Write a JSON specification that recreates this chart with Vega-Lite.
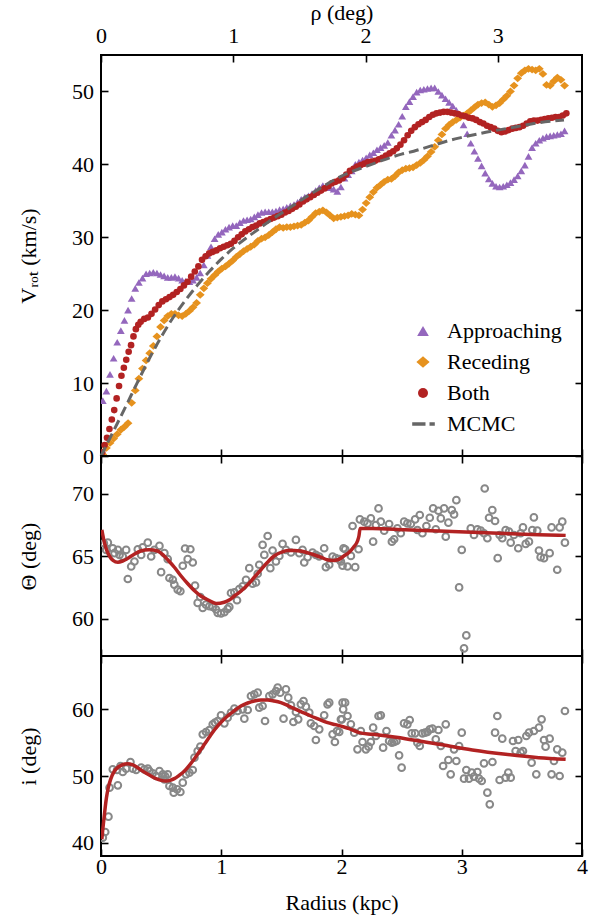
{
"$schema": "https://vega.github.io/schema/vega-lite/v6.json",
"padding": {"left": 16, "top": 0, "right": 5, "bottom": 5},
"spacing": 0,
"bounds": "flush",
"config": {
 "font": "Liberation Serif, Tinos, Times New Roman, Times, Noto Serif, FreeSerif, Nimbus Roman, DejaVu Serif, serif",
 "view": {"stroke": "black", "strokeWidth": 2},
 "axis": {"domain": false, "grid": false, "tickColor": "black", "tickWidth": 1.6, "tickSize": -7, "labelFont": "Liberation Serif, Tinos, Times New Roman, Times, Noto Serif, FreeSerif, Nimbus Roman, DejaVu Serif, serif", "labelFontSize": 22, "labelColor": "black", "titleFont": "Liberation Serif, Tinos, Times New Roman, Times, Noto Serif, FreeSerif, Nimbus Roman, DejaVu Serif, serif", "titleFontSize": 22, "titleFontWeight": "normal", "titleColor": "black", "labelFlush": false, "labelPadding": 14.5, "labelOverlap": false},
 "legend": {"labelFont": "Liberation Serif, Tinos, Times New Roman, Times, Noto Serif, FreeSerif, Nimbus Roman, DejaVu Serif, serif"}
},
"datasets": {
 "vrot": [
{"s":"Approaching","r":0.015,"v":7.6},{"s":"Approaching","r":0.045,"v":8.9},{"s":"Approaching","r":0.075,"v":11.2},{"s":"Approaching","r":0.105,"v":13.4},{"s":"Approaching","r":0.135,"v":15.6},{"s":"Approaching","r":0.165,"v":17.2},{"s":"Approaching","r":0.195,"v":18.6},{"s":"Approaching","r":0.225,"v":20.0},{"s":"Approaching","r":0.255,"v":21.6},{"s":"Approaching","r":0.285,"v":23.0},{"s":"Approaching","r":0.315,"v":23.8},{"s":"Approaching","r":0.345,"v":24.4},{"s":"Approaching","r":0.375,"v":25.0},{"s":"Approaching","r":0.405,"v":25.1},{"s":"Approaching","r":0.435,"v":25.2},{"s":"Approaching","r":0.465,"v":25.1},{"s":"Approaching","r":0.495,"v":24.9},{"s":"Approaching","r":0.525,"v":24.7},{"s":"Approaching","r":0.555,"v":24.5},{"s":"Approaching","r":0.585,"v":24.5},{"s":"Approaching","r":0.615,"v":24.6},{"s":"Approaching","r":0.645,"v":24.4},{"s":"Approaching","r":0.675,"v":24.1},{"s":"Approaching","r":0.705,"v":24.0},{"s":"Approaching","r":0.735,"v":23.9},{"s":"Approaching","r":0.765,"v":24.1},{"s":"Approaching","r":0.795,"v":24.5},{"s":"Approaching","r":0.825,"v":25.1},{"s":"Approaching","r":0.855,"v":26.2},{"s":"Approaching","r":0.885,"v":27.5},{"s":"Approaching","r":0.915,"v":28.7},{"s":"Approaching","r":0.945,"v":29.8},{"s":"Approaching","r":0.975,"v":30.4},{"s":"Approaching","r":1.005,"v":30.7},{"s":"Approaching","r":1.035,"v":31.1},{"s":"Approaching","r":1.065,"v":31.4},{"s":"Approaching","r":1.095,"v":31.6},{"s":"Approaching","r":1.125,"v":31.6},{"s":"Approaching","r":1.155,"v":32.0},{"s":"Approaching","r":1.185,"v":32.3},{"s":"Approaching","r":1.215,"v":32.4},{"s":"Approaching","r":1.245,"v":32.5},{"s":"Approaching","r":1.275,"v":32.8},{"s":"Approaching","r":1.305,"v":33.1},{"s":"Approaching","r":1.335,"v":33.4},{"s":"Approaching","r":1.365,"v":33.5},{"s":"Approaching","r":1.395,"v":33.5},{"s":"Approaching","r":1.425,"v":33.5},{"s":"Approaching","r":1.455,"v":33.6},{"s":"Approaching","r":1.485,"v":33.8},{"s":"Approaching","r":1.515,"v":33.9},{"s":"Approaching","r":1.545,"v":34.1},{"s":"Approaching","r":1.575,"v":34.3},{"s":"Approaching","r":1.605,"v":34.5},{"s":"Approaching","r":1.635,"v":34.8},{"s":"Approaching","r":1.665,"v":35.2},{"s":"Approaching","r":1.695,"v":35.5},{"s":"Approaching","r":1.725,"v":35.7},{"s":"Approaching","r":1.755,"v":36.0},{"s":"Approaching","r":1.785,"v":36.4},{"s":"Approaching","r":1.815,"v":36.8},{"s":"Approaching","r":1.845,"v":37.1},{"s":"Approaching","r":1.875,"v":37.0},{"s":"Approaching","r":1.905,"v":36.8},{"s":"Approaching","r":1.935,"v":36.6},{"s":"Approaching","r":1.965,"v":36.3},{"s":"Approaching","r":1.995,"v":36.9},{"s":"Approaching","r":2.025,"v":38.1},{"s":"Approaching","r":2.055,"v":38.6},{"s":"Approaching","r":2.085,"v":39.1},{"s":"Approaching","r":2.115,"v":40.0},{"s":"Approaching","r":2.145,"v":40.3},{"s":"Approaching","r":2.175,"v":40.6},{"s":"Approaching","r":2.205,"v":40.9},{"s":"Approaching","r":2.235,"v":41.3},{"s":"Approaching","r":2.265,"v":41.6},{"s":"Approaching","r":2.295,"v":42.0},{"s":"Approaching","r":2.325,"v":42.3},{"s":"Approaching","r":2.355,"v":42.6},{"s":"Approaching","r":2.385,"v":43.0},{"s":"Approaching","r":2.415,"v":44.0},{"s":"Approaching","r":2.445,"v":44.7},{"s":"Approaching","r":2.475,"v":45.5},{"s":"Approaching","r":2.505,"v":46.6},{"s":"Approaching","r":2.535,"v":47.9},{"s":"Approaching","r":2.565,"v":48.6},{"s":"Approaching","r":2.595,"v":49.3},{"s":"Approaching","r":2.625,"v":49.9},{"s":"Approaching","r":2.655,"v":50.2},{"s":"Approaching","r":2.685,"v":50.3},{"s":"Approaching","r":2.715,"v":50.4},{"s":"Approaching","r":2.745,"v":50.5},{"s":"Approaching","r":2.775,"v":50.5},{"s":"Approaching","r":2.805,"v":50.0},{"s":"Approaching","r":2.835,"v":49.5},{"s":"Approaching","r":2.865,"v":49.0},{"s":"Approaching","r":2.895,"v":48.5},{"s":"Approaching","r":2.925,"v":48.0},{"s":"Approaching","r":2.955,"v":47.4},{"s":"Approaching","r":2.985,"v":46.7},{"s":"Approaching","r":3.015,"v":45.4},{"s":"Approaching","r":3.045,"v":44.2},{"s":"Approaching","r":3.075,"v":42.9},{"s":"Approaching","r":3.105,"v":41.8},{"s":"Approaching","r":3.135,"v":40.8},{"s":"Approaching","r":3.165,"v":39.8},{"s":"Approaching","r":3.195,"v":38.8},{"s":"Approaching","r":3.225,"v":38.0},{"s":"Approaching","r":3.255,"v":37.4},{"s":"Approaching","r":3.285,"v":37.0},{"s":"Approaching","r":3.315,"v":36.9},{"s":"Approaching","r":3.345,"v":37.0},{"s":"Approaching","r":3.375,"v":37.2},{"s":"Approaching","r":3.405,"v":37.5},{"s":"Approaching","r":3.435,"v":37.9},{"s":"Approaching","r":3.465,"v":38.4},{"s":"Approaching","r":3.495,"v":39.1},{"s":"Approaching","r":3.525,"v":39.9},{"s":"Approaching","r":3.555,"v":41.1},{"s":"Approaching","r":3.585,"v":42.3},{"s":"Approaching","r":3.615,"v":42.9},{"s":"Approaching","r":3.645,"v":43.3},{"s":"Approaching","r":3.675,"v":43.6},{"s":"Approaching","r":3.705,"v":43.8},{"s":"Approaching","r":3.735,"v":43.9},{"s":"Approaching","r":3.765,"v":44.0},{"s":"Approaching","r":3.795,"v":44.1},{"s":"Approaching","r":3.825,"v":44.2},{"s":"Approaching","r":3.855,"v":44.6},
{"s":"Receding","r":0.015,"v":0.2},{"s":"Receding","r":0.045,"v":1.1},{"s":"Receding","r":0.075,"v":1.8},{"s":"Receding","r":0.105,"v":2.4},{"s":"Receding","r":0.135,"v":3.0},{"s":"Receding","r":0.165,"v":3.6},{"s":"Receding","r":0.195,"v":4.0},{"s":"Receding","r":0.225,"v":4.5},{"s":"Receding","r":0.255,"v":7.3},{"s":"Receding","r":0.285,"v":9.0},{"s":"Receding","r":0.315,"v":10.6},{"s":"Receding","r":0.345,"v":12.0},{"s":"Receding","r":0.375,"v":13.1},{"s":"Receding","r":0.405,"v":14.1},{"s":"Receding","r":0.435,"v":15.1},{"s":"Receding","r":0.465,"v":16.4},{"s":"Receding","r":0.495,"v":17.7},{"s":"Receding","r":0.525,"v":18.6},{"s":"Receding","r":0.555,"v":19.2},{"s":"Receding","r":0.585,"v":19.5},{"s":"Receding","r":0.615,"v":19.5},{"s":"Receding","r":0.645,"v":19.3},{"s":"Receding","r":0.675,"v":19.2},{"s":"Receding","r":0.705,"v":19.5},{"s":"Receding","r":0.735,"v":19.9},{"s":"Receding","r":0.765,"v":20.4},{"s":"Receding","r":0.795,"v":21.0},{"s":"Receding","r":0.825,"v":22.1},{"s":"Receding","r":0.855,"v":23.0},{"s":"Receding","r":0.885,"v":23.7},{"s":"Receding","r":0.915,"v":24.3},{"s":"Receding","r":0.945,"v":24.8},{"s":"Receding","r":0.975,"v":25.3},{"s":"Receding","r":1.005,"v":25.7},{"s":"Receding","r":1.035,"v":26.0},{"s":"Receding","r":1.065,"v":26.4},{"s":"Receding","r":1.095,"v":26.8},{"s":"Receding","r":1.125,"v":27.3},{"s":"Receding","r":1.155,"v":27.7},{"s":"Receding","r":1.185,"v":28.1},{"s":"Receding","r":1.215,"v":28.4},{"s":"Receding","r":1.245,"v":28.7},{"s":"Receding","r":1.275,"v":29.0},{"s":"Receding","r":1.305,"v":29.5},{"s":"Receding","r":1.335,"v":29.8},{"s":"Receding","r":1.365,"v":30.0},{"s":"Receding","r":1.395,"v":30.3},{"s":"Receding","r":1.425,"v":30.7},{"s":"Receding","r":1.455,"v":31.1},{"s":"Receding","r":1.485,"v":31.4},{"s":"Receding","r":1.515,"v":31.3},{"s":"Receding","r":1.545,"v":31.4},{"s":"Receding","r":1.575,"v":31.4},{"s":"Receding","r":1.605,"v":31.5},{"s":"Receding","r":1.635,"v":31.6},{"s":"Receding","r":1.665,"v":31.7},{"s":"Receding","r":1.695,"v":32.0},{"s":"Receding","r":1.725,"v":32.3},{"s":"Receding","r":1.755,"v":32.8},{"s":"Receding","r":1.785,"v":33.3},{"s":"Receding","r":1.815,"v":33.5},{"s":"Receding","r":1.845,"v":33.7},{"s":"Receding","r":1.875,"v":33.4},{"s":"Receding","r":1.905,"v":33.0},{"s":"Receding","r":1.935,"v":32.6},{"s":"Receding","r":1.965,"v":32.7},{"s":"Receding","r":1.995,"v":32.8},{"s":"Receding","r":2.025,"v":32.9},{"s":"Receding","r":2.055,"v":33.0},{"s":"Receding","r":2.085,"v":33.2},{"s":"Receding","r":2.115,"v":33.1},{"s":"Receding","r":2.145,"v":33.0},{"s":"Receding","r":2.175,"v":33.8},{"s":"Receding","r":2.205,"v":34.7},{"s":"Receding","r":2.235,"v":35.5},{"s":"Receding","r":2.265,"v":36.2},{"s":"Receding","r":2.295,"v":36.8},{"s":"Receding","r":2.325,"v":37.2},{"s":"Receding","r":2.355,"v":37.6},{"s":"Receding","r":2.385,"v":37.9},{"s":"Receding","r":2.415,"v":38.0},{"s":"Receding","r":2.445,"v":38.4},{"s":"Receding","r":2.475,"v":38.9},{"s":"Receding","r":2.505,"v":39.2},{"s":"Receding","r":2.535,"v":39.4},{"s":"Receding","r":2.565,"v":39.5},{"s":"Receding","r":2.595,"v":39.6},{"s":"Receding","r":2.625,"v":39.9},{"s":"Receding","r":2.655,"v":40.2},{"s":"Receding","r":2.685,"v":40.6},{"s":"Receding","r":2.715,"v":41.1},{"s":"Receding","r":2.745,"v":41.7},{"s":"Receding","r":2.775,"v":42.4},{"s":"Receding","r":2.805,"v":43.3},{"s":"Receding","r":2.835,"v":44.1},{"s":"Receding","r":2.865,"v":44.9},{"s":"Receding","r":2.895,"v":45.4},{"s":"Receding","r":2.925,"v":45.8},{"s":"Receding","r":2.955,"v":46.1},{"s":"Receding","r":2.985,"v":46.4},{"s":"Receding","r":3.015,"v":46.7},{"s":"Receding","r":3.045,"v":47.0},{"s":"Receding","r":3.075,"v":47.4},{"s":"Receding","r":3.105,"v":47.8},{"s":"Receding","r":3.135,"v":48.2},{"s":"Receding","r":3.165,"v":48.4},{"s":"Receding","r":3.195,"v":48.5},{"s":"Receding","r":3.225,"v":48.2},{"s":"Receding","r":3.255,"v":47.9},{"s":"Receding","r":3.285,"v":48.1},{"s":"Receding","r":3.315,"v":48.4},{"s":"Receding","r":3.345,"v":48.9},{"s":"Receding","r":3.375,"v":49.4},{"s":"Receding","r":3.405,"v":50.0},{"s":"Receding","r":3.435,"v":50.8},{"s":"Receding","r":3.465,"v":51.8},{"s":"Receding","r":3.495,"v":52.5},{"s":"Receding","r":3.525,"v":52.9},{"s":"Receding","r":3.555,"v":53.1},{"s":"Receding","r":3.585,"v":53.0},{"s":"Receding","r":3.615,"v":52.9},{"s":"Receding","r":3.645,"v":53.1},{"s":"Receding","r":3.675,"v":52.4},{"s":"Receding","r":3.705,"v":50.9},{"s":"Receding","r":3.735,"v":50.8},{"s":"Receding","r":3.765,"v":51.4},{"s":"Receding","r":3.795,"v":51.9},{"s":"Receding","r":3.825,"v":51.6},{"s":"Receding","r":3.855,"v":50.8},
{"s":"Both","r":0.01,"v":0.5},{"s":"Both","r":0.03,"v":1.5},{"s":"Both","r":0.05,"v":2.5},{"s":"Both","r":0.07,"v":3.7},{"s":"Both","r":0.09,"v":5.0},{"s":"Both","r":0.11,"v":6.3},{"s":"Both","r":0.13,"v":7.9},{"s":"Both","r":0.15,"v":9.6},{"s":"Both","r":0.17,"v":11.0},{"s":"Both","r":0.19,"v":12.1},{"s":"Both","r":0.21,"v":13.2},{"s":"Both","r":0.23,"v":14.3},{"s":"Both","r":0.25,"v":15.2},{"s":"Both","r":0.27,"v":16.4},{"s":"Both","r":0.29,"v":17.4},{"s":"Both","r":0.31,"v":18.0},{"s":"Both","r":0.33,"v":18.4},{"s":"Both","r":0.36,"v":18.8},{"s":"Both","r":0.39,"v":19.0},{"s":"Both","r":0.42,"v":19.5},{"s":"Both","r":0.45,"v":20.1},{"s":"Both","r":0.48,"v":20.7},{"s":"Both","r":0.51,"v":21.2},{"s":"Both","r":0.54,"v":21.5},{"s":"Both","r":0.57,"v":21.8},{"s":"Both","r":0.6,"v":22.1},{"s":"Both","r":0.63,"v":22.5},{"s":"Both","r":0.66,"v":22.9},{"s":"Both","r":0.69,"v":23.4},{"s":"Both","r":0.72,"v":23.9},{"s":"Both","r":0.75,"v":24.6},{"s":"Both","r":0.78,"v":25.3},{"s":"Both","r":0.81,"v":26.0},{"s":"Both","r":0.84,"v":26.9},{"s":"Both","r":0.87,"v":27.4},{"s":"Both","r":0.9,"v":27.8},{"s":"Both","r":0.93,"v":28.0},{"s":"Both","r":0.96,"v":28.2},{"s":"Both","r":0.99,"v":28.5},{"s":"Both","r":1.02,"v":28.7},{"s":"Both","r":1.05,"v":28.9},{"s":"Both","r":1.08,"v":29.1},{"s":"Both","r":1.11,"v":29.5},{"s":"Both","r":1.14,"v":30.0},{"s":"Both","r":1.17,"v":30.4},{"s":"Both","r":1.2,"v":30.8},{"s":"Both","r":1.23,"v":31.1},{"s":"Both","r":1.26,"v":31.4},{"s":"Both","r":1.29,"v":31.6},{"s":"Both","r":1.32,"v":31.9},{"s":"Both","r":1.35,"v":32.1},{"s":"Both","r":1.38,"v":32.3},{"s":"Both","r":1.41,"v":32.5},{"s":"Both","r":1.44,"v":32.7},{"s":"Both","r":1.47,"v":32.9},{"s":"Both","r":1.5,"v":33.1},{"s":"Both","r":1.53,"v":33.4},{"s":"Both","r":1.56,"v":33.6},{"s":"Both","r":1.59,"v":33.9},{"s":"Both","r":1.62,"v":34.2},{"s":"Both","r":1.65,"v":34.5},{"s":"Both","r":1.68,"v":34.9},{"s":"Both","r":1.71,"v":35.2},{"s":"Both","r":1.74,"v":35.5},{"s":"Both","r":1.77,"v":35.8},{"s":"Both","r":1.8,"v":36.1},{"s":"Both","r":1.83,"v":36.4},{"s":"Both","r":1.86,"v":36.7},{"s":"Both","r":1.89,"v":37.0},{"s":"Both","r":1.92,"v":37.4},{"s":"Both","r":1.95,"v":37.6},{"s":"Both","r":1.98,"v":37.8},{"s":"Both","r":2.01,"v":38.1},{"s":"Both","r":2.04,"v":38.6},{"s":"Both","r":2.07,"v":39.1},{"s":"Both","r":2.1,"v":39.4},{"s":"Both","r":2.13,"v":39.7},{"s":"Both","r":2.16,"v":39.9},{"s":"Both","r":2.19,"v":40.1},{"s":"Both","r":2.22,"v":40.3},{"s":"Both","r":2.25,"v":40.4},{"s":"Both","r":2.28,"v":40.5},{"s":"Both","r":2.31,"v":40.7},{"s":"Both","r":2.34,"v":40.9},{"s":"Both","r":2.37,"v":41.2},{"s":"Both","r":2.4,"v":41.5},{"s":"Both","r":2.43,"v":41.8},{"s":"Both","r":2.46,"v":42.2},{"s":"Both","r":2.49,"v":42.7},{"s":"Both","r":2.52,"v":43.3},{"s":"Both","r":2.55,"v":44.0},{"s":"Both","r":2.58,"v":44.6},{"s":"Both","r":2.61,"v":45.1},{"s":"Both","r":2.64,"v":45.5},{"s":"Both","r":2.67,"v":45.8},{"s":"Both","r":2.7,"v":46.1},{"s":"Both","r":2.73,"v":46.5},{"s":"Both","r":2.76,"v":46.8},{"s":"Both","r":2.79,"v":47.0},{"s":"Both","r":2.82,"v":47.1},{"s":"Both","r":2.85,"v":47.2},{"s":"Both","r":2.88,"v":47.2},{"s":"Both","r":2.91,"v":47.1},{"s":"Both","r":2.94,"v":47.0},{"s":"Both","r":2.97,"v":46.9},{"s":"Both","r":3.0,"v":46.7},{"s":"Both","r":3.03,"v":46.6},{"s":"Both","r":3.06,"v":46.4},{"s":"Both","r":3.09,"v":46.3},{"s":"Both","r":3.12,"v":46.1},{"s":"Both","r":3.15,"v":45.8},{"s":"Both","r":3.18,"v":45.6},{"s":"Both","r":3.21,"v":45.3},{"s":"Both","r":3.24,"v":45.1},{"s":"Both","r":3.27,"v":44.9},{"s":"Both","r":3.3,"v":44.6},{"s":"Both","r":3.33,"v":44.4},{"s":"Both","r":3.36,"v":44.5},{"s":"Both","r":3.39,"v":44.7},{"s":"Both","r":3.42,"v":44.9},{"s":"Both","r":3.45,"v":45.0},{"s":"Both","r":3.48,"v":45.1},{"s":"Both","r":3.51,"v":45.3},{"s":"Both","r":3.54,"v":45.6},{"s":"Both","r":3.57,"v":45.9},{"s":"Both","r":3.6,"v":46.0},{"s":"Both","r":3.63,"v":46.0},{"s":"Both","r":3.66,"v":46.1},{"s":"Both","r":3.69,"v":46.2},{"s":"Both","r":3.72,"v":46.3},{"s":"Both","r":3.75,"v":46.4},{"s":"Both","r":3.78,"v":46.5},{"s":"Both","r":3.81,"v":46.5},{"s":"Both","r":3.84,"v":46.7},{"s":"Both","r":3.87,"v":47.0}
 ],
 "mcmc": [
{"r":0,"v":0},{"r":0.1,"v":3.3},{"r":0.2,"v":6.6},{"r":0.3,"v":10.0},{"r":0.4,"v":13.3},{"r":0.5,"v":16.3},{"r":0.6,"v":19.0},{"r":0.7,"v":21.3},{"r":0.8,"v":23.4},{"r":0.9,"v":25.3},{"r":1.0,"v":27.0},{"r":1.1,"v":28.5},{"r":1.2,"v":29.8},{"r":1.3,"v":31.0},{"r":1.4,"v":32.2},{"r":1.5,"v":33.3},{"r":1.6,"v":34.4},{"r":1.7,"v":35.5},{"r":1.8,"v":36.5},{"r":1.9,"v":37.5},{"r":2.0,"v":38.4},{"r":2.1,"v":39.1},{"r":2.2,"v":39.7},{"r":2.3,"v":40.3},{"r":2.4,"v":40.9},{"r":2.5,"v":41.4},{"r":2.6,"v":41.8},{"r":2.7,"v":42.3},{"r":2.8,"v":42.8},{"r":2.9,"v":43.3},{"r":3.0,"v":43.7},{"r":3.2,"v":44.4},{"r":3.4,"v":45.0},{"r":3.6,"v":45.6},{"r":3.85,"v":46.1}
 ],
 "theta_pts": [
{"r":0.024,"t":66.02},{"r":0.057,"t":66.07},{"r":0.043,"t":65.49},{"r":0.098,"t":65.62},{"r":0.14,"t":65.49},{"r":0.112,"t":65.23},{"r":0.154,"t":65.09},{"r":0.209,"t":65.49},{"r":0.181,"t":64.96},{"r":0.223,"t":63.16},{"r":0.251,"t":64.16},{"r":0.278,"t":64.56},{"r":0.306,"t":65.54},{"r":0.334,"t":65.09},{"r":0.347,"t":65.7},{"r":0.389,"t":66.07},{"r":0.417,"t":64.96},{"r":0.444,"t":65.49},{"r":0.486,"t":65.81},{"r":0.5,"t":63.71},{"r":0.527,"t":65.23},{"r":0.555,"t":64.75},{"r":0.569,"t":63.24},{"r":0.597,"t":63.1},{"r":0.61,"t":62.71},{"r":0.638,"t":62.31},{"r":0.66,"t":62.18},{"r":0.68,"t":64.22},{"r":0.699,"t":65.6},{"r":0.743,"t":65.54},{"r":0.721,"t":64.75},{"r":0.763,"t":64.48},{"r":0.782,"t":62.63},{"r":0.804,"t":61.25},{"r":0.826,"t":61.72},{"r":0.846,"t":60.85},{"r":0.873,"t":61.11},{"r":0.901,"t":60.98},{"r":0.929,"t":60.93},{"r":0.957,"t":60.72},{"r":0.971,"t":60.45},{"r":0.998,"t":60.4},{"r":1.026,"t":60.5},{"r":1.053,"t":60.77},{"r":1.067,"t":60.93},{"r":1.081,"t":62.04},{"r":1.109,"t":62.1},{"r":1.131,"t":61.46},{"r":1.15,"t":62.36},{"r":1.178,"t":62.57},{"r":1.206,"t":63.1},{"r":1.233,"t":64.03},{"r":1.261,"t":62.79},{"r":1.289,"t":62.89},{"r":1.303,"t":63.58},{"r":1.316,"t":64.3},{"r":1.344,"t":65.89},{"r":1.358,"t":65.09},{"r":1.386,"t":66.6},{"r":1.408,"t":64.03},{"r":1.427,"t":65.44},{"r":1.455,"t":64.56},{"r":1.483,"t":65.01},{"r":1.51,"t":65.97},{"r":1.538,"t":65.49},{"r":1.58,"t":65.28},{"r":1.621,"t":66.29},{"r":1.649,"t":65.23},{"r":1.676,"t":65.49},{"r":1.69,"t":64.48},{"r":1.718,"t":64.91},{"r":1.759,"t":65.28},{"r":1.787,"t":65.09},{"r":1.815,"t":64.96},{"r":1.856,"t":65.62},{"r":1.87,"t":64.11},{"r":1.898,"t":64.3},{"r":1.926,"t":64.96},{"r":1.953,"t":64.83},{"r":1.995,"t":64.56},{"r":2.017,"t":65.62},
{"r":1.981,"t":64.75},{"r":2.009,"t":64.22},{"r":2.05,"t":64.16},{"r":2.078,"t":65.01},{"r":2.031,"t":65.54},{"r":2.114,"t":64.11},{"r":2.142,"t":65.54},{"r":2.092,"t":67.4},{"r":2.153,"t":67.93},{"r":2.189,"t":67.75},{"r":2.216,"t":67.61},{"r":2.244,"t":68.01},{"r":2.263,"t":66.15},{"r":2.286,"t":67.48},{"r":2.308,"t":68.81},{"r":2.327,"t":67.75},{"r":2.355,"t":67.03},{"r":2.396,"t":67.56},{"r":2.419,"t":66.15},{"r":2.438,"t":66.34},{"r":2.465,"t":67.21},{"r":2.493,"t":66.82},{"r":2.521,"t":67.75},{"r":2.548,"t":67.61},{"r":2.577,"t":67.56},{"r":2.612,"t":67.93},{"r":2.631,"t":67.08},{"r":2.651,"t":68.28},{"r":2.673,"t":66.82},{"r":2.706,"t":67.4},{"r":2.734,"t":68.06},{"r":2.762,"t":68.81},{"r":2.784,"t":67.14},{"r":2.806,"t":68.62},{"r":2.826,"t":68.01},{"r":2.853,"t":68.81},{"r":2.867,"t":66.55},{"r":2.889,"t":67.67},{"r":2.917,"t":68.67},{"r":2.936,"t":68.33},{"r":2.955,"t":69.47},{"r":3.0,"t":65.49},{"r":2.978,"t":62.49},{"r":3.038,"t":58.65},{"r":3.019,"t":57.61},{"r":3.075,"t":67.21},{"r":3.102,"t":66.68},{"r":3.13,"t":67.14},{"r":3.158,"t":67.03},{"r":3.185,"t":66.82},{"r":3.213,"t":66.42},{"r":3.191,"t":70.4},{"r":3.227,"t":68.06},{"r":3.254,"t":68.67},{"r":3.277,"t":67.8},{"r":3.299,"t":64.83},{"r":3.315,"t":66.68},{"r":3.337,"t":66.42},{"r":3.365,"t":67.08},{"r":3.393,"t":66.95},{"r":3.407,"t":66.07},{"r":3.434,"t":66.68},{"r":3.47,"t":65.62},{"r":3.49,"t":66.82},{"r":3.509,"t":67.29},{"r":3.532,"t":65.97},{"r":3.559,"t":66.15},{"r":3.587,"t":67.08},{"r":3.6,"t":68.09},{"r":3.628,"t":67.03},{"r":3.642,"t":65.44},{"r":3.656,"t":64.91},{"r":3.684,"t":64.83},{"r":3.731,"t":65.23},{"r":3.747,"t":67.29},{"r":3.794,"t":63.9},{"r":3.814,"t":67.29},{"r":3.836,"t":67.75},{"r":3.858,"t":66.07}
 ],
 "theta_fit": [
{"r":0.007,"t":67.1},{"r":0.03,"t":66.0},{"r":0.05,"t":65.4},{"r":0.07,"t":65.0},{"r":0.1,"t":64.65},{"r":0.14,"t":64.5},{"r":0.18,"t":64.6},{"r":0.22,"t":64.8},{"r":0.27,"t":65.1},{"r":0.33,"t":65.4},{"r":0.4,"t":65.5},{"r":0.47,"t":65.4},{"r":0.52,"t":65.05},{"r":0.555,"t":64.7},{"r":0.61,"t":64.1},{"r":0.666,"t":63.4},{"r":0.72,"t":62.8},{"r":0.78,"t":62.2},{"r":0.83,"t":61.8},{"r":0.887,"t":61.5},{"r":0.957,"t":61.2},{"r":1.025,"t":61.3},{"r":1.07,"t":61.5},{"r":1.11,"t":61.8},{"r":1.165,"t":62.2},{"r":1.22,"t":62.7},{"r":1.275,"t":63.3},{"r":1.33,"t":63.9},{"r":1.385,"t":64.5},{"r":1.44,"t":65.0},{"r":1.5,"t":65.3},{"r":1.55,"t":65.45},{"r":1.61,"t":65.45},{"r":1.66,"t":65.4},{"r":1.72,"t":65.25},{"r":1.77,"t":65.1},{"r":1.83,"t":64.9},{"r":1.88,"t":64.7},{"r":1.93,"t":64.65},{"r":1.97,"t":64.7},{"r":2.02,"t":65.0},{"r":2.064,"t":65.3},{"r":2.1,"t":65.7},{"r":2.133,"t":66.2},{"r":2.145,"t":66.6},{"r":2.155,"t":67.2},{"r":2.258,"t":67.2},{"r":2.53,"t":67.1},{"r":2.81,"t":67.0},{"r":3.088,"t":66.9},{"r":3.365,"t":66.8},{"r":3.64,"t":66.7},{"r":3.864,"t":66.65}
 ],
 "incl_pts": [
{"r":0.015,"i":40.75},{"r":0.035,"i":41.6},{"r":0.062,"i":43.9},{"r":0.071,"i":48.25},{"r":0.14,"i":48.6},{"r":0.098,"i":51.0},{"r":0.134,"i":50.9},{"r":0.181,"i":50.6},{"r":0.162,"i":51.5},{"r":0.209,"i":51.1},{"r":0.245,"i":52.1},{"r":0.264,"i":51.1},{"r":0.292,"i":50.9},{"r":0.334,"i":51.25},{"r":0.361,"i":51.0},{"r":0.389,"i":51.1},{"r":0.403,"i":50.75},{"r":0.43,"i":50.4},{"r":0.458,"i":50.0},{"r":0.486,"i":50.75},{"r":0.514,"i":50.25},{"r":0.533,"i":50.0},{"r":0.555,"i":50.25},{"r":0.527,"i":49.5},{"r":0.569,"i":48.5},{"r":0.597,"i":48.25},{"r":0.605,"i":47.5},{"r":0.633,"i":48.0},{"r":0.66,"i":47.6},{"r":0.68,"i":49.0},{"r":0.707,"i":50.25},{"r":0.735,"i":50.5},{"r":0.763,"i":50.9},{"r":0.777,"i":52.75},{"r":0.804,"i":53.75},{"r":0.826,"i":54.4},{"r":0.846,"i":56.25},{"r":0.873,"i":56.6},{"r":0.901,"i":56.9},{"r":0.929,"i":57.75},{"r":0.948,"i":58.0},{"r":0.97,"i":58.25},{"r":0.998,"i":59.1},{"r":1.026,"i":57.9},{"r":1.053,"i":58.75},{"r":1.081,"i":59.5},{"r":1.109,"i":60.1},{"r":1.136,"i":59.75},{"r":1.178,"i":60.0},{"r":1.192,"i":58.6},{"r":1.22,"i":59.9},{"r":1.247,"i":62.0},{"r":1.275,"i":62.25},{"r":1.303,"i":62.5},{"r":1.316,"i":60.25},{"r":1.344,"i":60.5},{"r":1.364,"i":58.25},{"r":1.4,"i":62.0},{"r":1.427,"i":62.25},{"r":1.455,"i":62.75},{"r":1.469,"i":63.25},{"r":1.49,"i":62.5},{"r":1.518,"i":58.6},{"r":1.538,"i":63.0},{"r":1.557,"i":61.75},{"r":1.58,"i":60.6},{"r":1.6,"i":58.1},{"r":1.621,"i":59.6},{"r":1.64,"i":58.5},{"r":1.662,"i":60.75},{"r":1.684,"i":61.25},{"r":1.704,"i":60.4},{"r":1.732,"i":59.5},{"r":1.745,"i":57.9},{"r":1.773,"i":57.5},{"r":1.787,"i":55.4},{"r":1.815,"i":57.0},{"r":1.856,"i":59.1},{"r":1.884,"i":60.75},{"r":1.898,"i":61.0},{"r":1.926,"i":56.25},{"r":1.945,"i":55.1},{"r":1.962,"i":56.75},{"r":1.995,"i":58.5},{"r":2.009,"i":61.0},
{"r":1.981,"i":56.6},{"r":2.003,"i":58.5},{"r":2.014,"i":60.0},{"r":2.03,"i":61.0},{"r":2.05,"i":59.0},{"r":2.078,"i":57.75},{"r":2.106,"i":56.5},{"r":2.133,"i":54.0},{"r":2.161,"i":56.75},{"r":2.175,"i":55.1},{"r":2.203,"i":54.0},{"r":2.225,"i":54.4},{"r":2.244,"i":55.1},{"r":2.263,"i":57.25},{"r":2.286,"i":56.0},{"r":2.308,"i":59.0},{"r":2.327,"i":59.1},{"r":2.346,"i":54.25},{"r":2.374,"i":56.75},{"r":2.396,"i":55.25},{"r":2.419,"i":55.0},{"r":2.438,"i":55.1},{"r":2.457,"i":55.25},{"r":2.479,"i":53.1},{"r":2.5,"i":51.25},{"r":2.52,"i":57.9},{"r":2.548,"i":57.75},{"r":2.567,"i":58.4},{"r":2.584,"i":56.4},{"r":2.612,"i":56.4},{"r":2.631,"i":55.0},{"r":2.651,"i":54.5},{"r":2.673,"i":56.4},{"r":2.695,"i":56.5},{"r":2.714,"i":56.6},{"r":2.734,"i":57.0},{"r":2.756,"i":57.1},{"r":2.784,"i":55.5},{"r":2.806,"i":56.9},{"r":2.826,"i":54.5},{"r":2.845,"i":51.5},{"r":2.867,"i":57.75},{"r":2.889,"i":52.4},{"r":2.908,"i":50.25},{"r":2.936,"i":54.0},{"r":2.955,"i":52.25},{"r":2.978,"i":54.5},{"r":3.0,"i":56.5},{"r":3.019,"i":49.6},{"r":3.038,"i":50.9},{"r":3.06,"i":49.6},{"r":3.083,"i":50.5},{"r":3.102,"i":49.9},{"r":3.13,"i":50.6},{"r":3.144,"i":49.6},{"r":3.166,"i":49.25},{"r":3.185,"i":51.9},{"r":3.213,"i":47.5},{"r":3.233,"i":45.75},{"r":3.255,"i":52.1},{"r":3.277,"i":56.5},{"r":3.296,"i":59.0},{"r":3.315,"i":49.4},{"r":3.337,"i":55.6},{"r":3.365,"i":49.75},{"r":3.387,"i":50.5},{"r":3.407,"i":49.75},{"r":3.426,"i":55.25},{"r":3.448,"i":53.75},{"r":3.47,"i":55.4},{"r":3.49,"i":53.5},{"r":3.509,"i":53.75},{"r":3.537,"i":56.0},{"r":3.559,"i":56.5},{"r":3.581,"i":52.0},{"r":3.6,"i":56.75},{"r":3.62,"i":50.25},{"r":3.642,"i":57.25},{"r":3.664,"i":58.5},{"r":3.684,"i":55.4},{"r":3.697,"i":54.4},{"r":3.731,"i":55.6},{"r":3.747,"i":50.25},{"r":3.767,"i":52.25},{"r":3.794,"i":54.0},{"r":3.814,"i":50.0},{"r":3.836,"i":53.5},{"r":3.858,"i":59.75}
 ],
 "incl_fit": [
{"r":0.007,"i":40.5},{"r":0.015,"i":42.0},{"r":0.024,"i":43.5},{"r":0.035,"i":45.3},{"r":0.045,"i":46.7},{"r":0.06,"i":48.2},{"r":0.08,"i":49.5},{"r":0.112,"i":50.75},{"r":0.14,"i":51.3},{"r":0.168,"i":51.6},{"r":0.2,"i":51.8},{"r":0.223,"i":51.85},{"r":0.26,"i":51.7},{"r":0.306,"i":51.25},{"r":0.34,"i":50.8},{"r":0.375,"i":50.4},{"r":0.415,"i":50.0},{"r":0.458,"i":49.6},{"r":0.5,"i":49.35},{"r":0.541,"i":49.25},{"r":0.575,"i":49.35},{"r":0.61,"i":49.6},{"r":0.65,"i":50.1},{"r":0.694,"i":50.75},{"r":0.735,"i":51.6},{"r":0.777,"i":52.6},{"r":0.82,"i":53.7},{"r":0.86,"i":54.75},{"r":0.9,"i":55.8},{"r":0.943,"i":56.9},{"r":1.0,"i":58.1},{"r":1.053,"i":59.0},{"r":1.11,"i":59.8},{"r":1.164,"i":60.5},{"r":1.22,"i":60.95},{"r":1.275,"i":61.25},{"r":1.33,"i":61.4},{"r":1.386,"i":61.4},{"r":1.44,"i":61.25},{"r":1.496,"i":61.0},{"r":1.55,"i":60.6},{"r":1.607,"i":60.1},{"r":1.675,"i":59.55},{"r":1.745,"i":59.0},{"r":1.815,"i":58.5},{"r":1.884,"i":58.0},{"r":1.95,"i":57.7},{"r":2.02,"i":57.35},{"r":2.064,"i":57.1},{"r":2.147,"i":56.5},{"r":2.258,"i":56.25},{"r":2.53,"i":55.6},{"r":2.81,"i":54.75},{"r":3.088,"i":53.9},{"r":3.365,"i":53.25},{"r":3.64,"i":52.75},{"r":3.864,"i":52.5}
 ]
},
"vconcat": [
 {
  "width": 481, "height": 401,
  "layer": [
   {
    "data": {"name": "vrot"},
    "mark": {"type": "point", "filled": true, "opacity": 1, "size": 44, "strokeWidth": 0, "clip": true},
    "encoding": {
     "x": {"field": "r", "type": "quantitative", "scale": {"domain": [0, 4], "nice": false, "zero": false}, "axis": {"orient": "bottom", "labels": false, "title": null, "values": [0, 1, 2, 3, 4]}},
     "y": {"field": "v", "type": "quantitative", "scale": {"domain": [0, 55], "nice": false}, "axis": {"orient": "left", "title": "Vᵣₒₜ (km/s)", "values": [0, 10, 20, 30, 40, 50], "titlePadding": 31}},
     "shape": {"field": "s", "type": "nominal", "sort": null, "scale": {"domain": ["Approaching", "Receding", "Both", "MCMC"], "range": ["M0,-1L1.17,1L-1.17,1Z", "M0,-1.17L1.33,0L0,1.17L-1.33,0Z", "circle", "M-2.16,-0.33H0.5V0.33H-2.16Z M1.3,-0.33H2.36V0.33H1.3Z"]}, "legend": {"title": null, "orient": "none", "legendX": 311, "legendY": 265, "symbolSize": 100, "labelFontSize": 22, "labelColor": "black", "labelOffset": 13, "rowPadding": 9, "padding": 0, "symbolStrokeWidth": 0}},
     "color": {"field": "s", "type": "nominal", "sort": null, "scale": {"domain": ["Approaching", "Receding", "Both", "MCMC"], "range": ["#9467bd", "#e6921e", "#b22222", "#666666"]}, "legend": {"title": null, "orient": "none", "legendX": 311, "legendY": 265, "symbolSize": 100, "labelFontSize": 22, "labelColor": "black", "labelOffset": 13, "rowPadding": 9, "padding": 0, "symbolStrokeWidth": 0}}
    }
   },
   {
    "data": {"name": "mcmc"},
    "mark": {"type": "line", "color": "#666666", "strokeWidth": 3, "strokeDash": [10, 5], "interpolate": "monotone"},
    "encoding": {
     "x": {"field": "r", "type": "quantitative", "scale": {"domain": [0, 4], "nice": false, "zero": false}, "axis": {"orient": "top", "values": [0, 1.1, 2.2, 3.3], "labelExpr": "format(round(datum.value/1.1),'d')", "title": "ρ (deg)", "labelPadding": 15, "titlePadding": 0}},
     "y": {"field": "v", "type": "quantitative", "scale": {"domain": [0, 55], "nice": false}, "axis": {"orient": "right", "labels": false, "title": null, "values": [0, 10, 20, 30, 40, 50]}}
    }
   }
  ],
  "resolve": {"axis": {"x": "independent", "y": "independent"}}
 },
 {
  "width": 481, "height": 200,
  "layer": [
   {
    "data": {"name": "theta_pts"},
    "mark": {"type": "point", "filled": false, "color": "#888888", "size": 45, "strokeWidth": 2, "opacity": 1, "clip": true},
    "encoding": {
     "x": {"field": "r", "type": "quantitative", "scale": {"domain": [0, 4], "nice": false, "zero": false}, "axis": {"orient": "bottom", "labels": false, "title": null, "values": [0, 1, 2, 3, 4]}},
     "y": {"field": "t", "type": "quantitative", "scale": {"domain": [57, 73], "nice": false, "zero": false}, "axis": {"orient": "left", "title": "Θ (deg)", "values": [60, 65, 70], "titlePadding": 31}}
    }
   },
   {
    "data": {"name": "theta_fit"},
    "mark": {"type": "line", "color": "#b22222", "strokeWidth": 3.5, "interpolate": "monotone", "clip": true},
    "encoding": {
     "x": {"field": "r", "type": "quantitative", "scale": {"domain": [0, 4], "nice": false, "zero": false}, "axis": {"orient": "top", "labels": false, "title": null, "values": [0, 1, 2, 3, 4]}},
     "y": {"field": "t", "type": "quantitative", "scale": {"domain": [57, 73], "nice": false, "zero": false}, "axis": {"orient": "right", "labels": false, "title": null, "values": [60, 65, 70]}}
    }
   }
  ],
  "resolve": {"axis": {"x": "independent", "y": "independent"}}
 },
 {
  "width": 481, "height": 200,
  "layer": [
   {
    "data": {"name": "incl_pts"},
    "mark": {"type": "point", "filled": false, "color": "#888888", "size": 45, "strokeWidth": 2, "opacity": 1, "clip": true},
    "encoding": {
     "x": {"field": "r", "type": "quantitative", "scale": {"domain": [0, 4], "nice": false, "zero": false}, "axis": {"orient": "bottom", "title": "Radius (kpc)", "values": [0, 1, 2, 3, 4], "labelPadding": 7, "titlePadding": 15}},
     "y": {"field": "i", "type": "quantitative", "scale": {"domain": [38, 68], "nice": false, "zero": false}, "axis": {"orient": "left", "title": "i (deg)", "values": [40, 50, 60], "titlePadding": 31}}
    }
   },
   {
    "data": {"name": "incl_fit"},
    "mark": {"type": "line", "color": "#b22222", "strokeWidth": 3.5, "interpolate": "monotone", "clip": true},
    "encoding": {
     "x": {"field": "r", "type": "quantitative", "scale": {"domain": [0, 4], "nice": false, "zero": false}, "axis": {"orient": "top", "labels": false, "title": null, "values": [0, 1, 2, 3, 4]}},
     "y": {"field": "i", "type": "quantitative", "scale": {"domain": [38, 68], "nice": false, "zero": false}, "axis": {"orient": "right", "labels": false, "title": null, "values": [40, 50, 60]}}
    }
   }
  ],
  "resolve": {"axis": {"x": "independent", "y": "independent"}}
 }
]
}
